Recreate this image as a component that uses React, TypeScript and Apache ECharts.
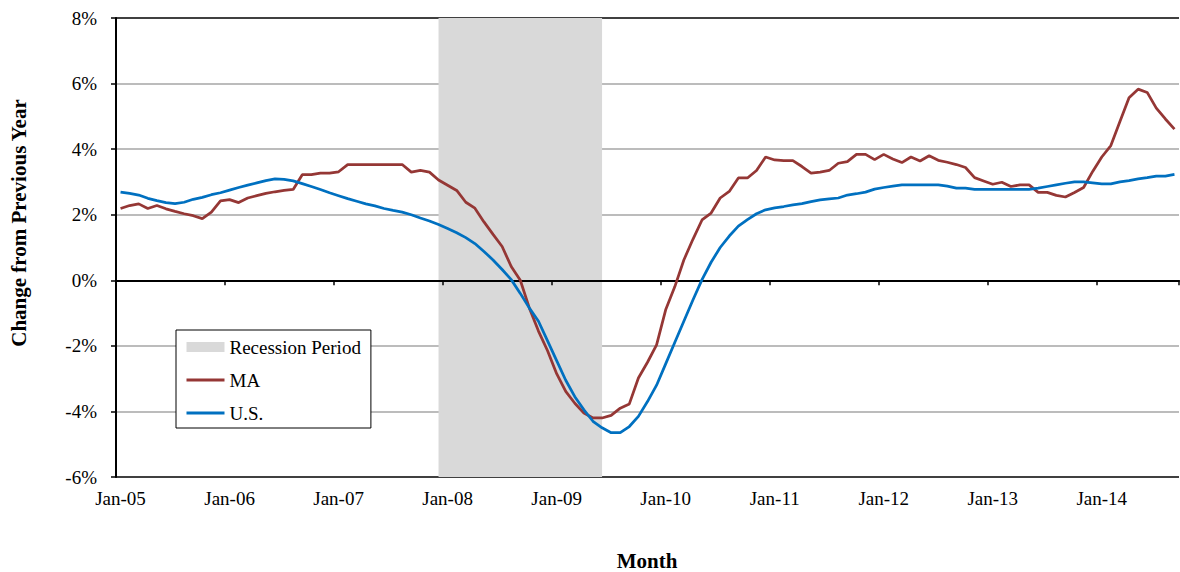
import React, { useEffect, useRef } from 'react';
import * as echarts from 'echarts';

// ---- data ----
const MONTH_NAMES = ['Jan', 'Feb', 'Mar', 'Apr', 'May', 'Jun', 'Jul', 'Aug', 'Sep', 'Oct', 'Nov', 'Dec'];
const START_YEAR = 2005;
const N_MONTHS = 117; // Jan-05 .. Sep-14
const categories: string[] = [];
for (let i = 0; i < N_MONTHS; i++) {
  const y = START_YEAR + Math.floor(i / 12);
  categories.push(`${MONTH_NAMES[i % 12]}-${String(y % 100).padStart(2, '0')}`);
}

const maValues = [
  2.19, 2.28, 2.33, 2.19, 2.28, 2.18, 2.10, 2.03, 1.97, 1.88, 2.08, 2.42,
  2.46, 2.37, 2.51, 2.58, 2.65, 2.70, 2.74, 2.77, 3.22, 3.22, 3.27, 3.27,
  3.31, 3.53, 3.53, 3.53, 3.53, 3.53, 3.53, 3.53, 3.30, 3.35, 3.30, 3.06,
  2.90, 2.74, 2.38, 2.20, 1.78, 1.40, 1.03, 0.42, 0.00, -0.85, -1.55, -2.15,
  -2.85, -3.39, -3.75, -4.05, -4.20, -4.20, -4.12, -3.90, -3.77, -2.98, -2.50, -1.97,
  -0.90, -0.20, 0.62, 1.25, 1.84, 2.05, 2.51, 2.71, 3.12, 3.12, 3.35, 3.76,
  3.67, 3.65, 3.65, 3.47, 3.27, 3.30, 3.35, 3.57, 3.62, 3.84, 3.84, 3.68,
  3.84, 3.70, 3.59, 3.76, 3.64, 3.80, 3.66, 3.60, 3.53, 3.44, 3.13, 3.03,
  2.93, 2.99, 2.86, 2.91, 2.91, 2.68, 2.68, 2.59, 2.54, 2.68, 2.83, 3.32,
  3.76, 4.11, 4.84, 5.57, 5.83, 5.73, 5.25, 4.92, 4.61,
];

const usValues = [
  2.69, 2.65, 2.60, 2.50, 2.43, 2.37, 2.34, 2.38, 2.47, 2.53, 2.61, 2.67,
  2.75, 2.83, 2.90, 2.97, 3.04, 3.09, 3.08, 3.03, 2.95, 2.86, 2.77, 2.67,
  2.58, 2.49, 2.41, 2.33, 2.27, 2.19, 2.13, 2.08, 2.00, 1.90, 1.81, 1.70,
  1.58, 1.45, 1.30, 1.12, 0.88, 0.62, 0.33, 0.02, -0.40, -0.85, -1.25, -1.85,
  -2.45, -3.05, -3.55, -3.95, -4.30, -4.50, -4.65, -4.65, -4.46, -4.15, -3.70, -3.20,
  -2.55, -1.90, -1.25, -0.60, 0.02, 0.55, 1.00, 1.35, 1.65, 1.85, 2.03, 2.15,
  2.21, 2.25, 2.30, 2.34, 2.40, 2.45, 2.48, 2.51, 2.60, 2.64, 2.69, 2.78,
  2.83, 2.87, 2.91, 2.91, 2.91, 2.91, 2.91, 2.87, 2.81, 2.81, 2.77, 2.77,
  2.77, 2.77, 2.77, 2.77, 2.77, 2.81, 2.86, 2.91, 2.96, 3.00, 3.00, 2.97,
  2.94, 2.94, 3.00, 3.04, 3.09, 3.13, 3.18, 3.18, 3.23,
];

const recessionStart = 'Dec-07';
const recessionEnd = 'Jun-09';

const Y_MIN = -6;
const Y_MAX = 8;
const Y_INTERVAL = 2;

const FONT = '"Liberation Serif", "Times New Roman", serif';

export default function App() {
  const ref = useRef<HTMLDivElement>(null);

  useEffect(() => {
    if (!ref.current) return;
    const chart = echarts.init(ref.current, undefined, { renderer: 'svg' });
    const grey = '#a6a6a6';
    const option: any = {
      animation: false,
      backgroundColor: '#fff',
      textStyle: { fontFamily: FONT },
      grid: { left: 116, right: 1, top: 18, bottom: 95, containLabel: false },
      legend: {
        orient: 'vertical',
        left: 176,
        top: 330,
        padding: [7, 10, 5, 9],
        itemGap: 13,
        itemWidth: 38,
        itemHeight: 10,
        backgroundColor: '#fff',
        borderColor: '#000',
        borderWidth: 1,
        borderRadius: 0,
        selectedMode: false,
        textStyle: { fontFamily: FONT, fontSize: 19, color: '#000', lineHeight: 20 },
        data: [
          { name: 'Recession Period', icon: 'rect', itemStyle: { color: '#d9d9d9' } },
          { name: 'MA', itemStyle: { opacity: 0 }, lineStyle: { color: '#953735', width: 3 } },
          { name: 'U.S.', itemStyle: { opacity: 0 }, lineStyle: { color: '#0070c0', width: 3 } },
        ],
      },
      xAxis: [
        {
          type: 'category',
          data: categories,
          boundaryGap: true,
          position: 'bottom',
          axisLine: { show: false, onZero: false },
          axisTick: { show: false },
          splitLine: { show: false },
          axisLabel: {
            interval: 11,
            margin: 12,
            fontFamily: FONT,
            fontSize: 19,
            color: '#000',
          },
        },
        {
          type: 'category',
          data: categories,
          boundaryGap: true,
          position: 'bottom',
          z: 3,
          axisLine: { show: true, onZero: true, lineStyle: { color: '#000', width: 2 } },
          axisTick: { show: true, interval: 11, length: 5, lineStyle: { color: '#000', width: 1.5 } },
          axisLabel: { show: false },
          splitLine: { show: false },
        },
      ],
      yAxis: {
        type: 'value',
        min: Y_MIN,
        max: Y_MAX,
        interval: Y_INTERVAL,
        z: 0,
        axisLine: { show: true, lineStyle: { color: '#000', width: 2 } },
        axisTick: { show: true, length: 5, lineStyle: { color: '#000', width: 1.5 } },
        axisLabel: {
          formatter: (v: number) => `${v}%`,
          margin: 19,
          fontFamily: FONT,
          fontSize: 19,
          color: '#000',
        },
        splitLine: {
          show: true,
          lineStyle: {
            color: ['#000', grey, grey, grey, grey, grey, grey, '#000'],
            width: 1.5,
          },
        },
      },
      graphic: [
        {
          type: 'text',
          x: 19,
          y: 223,
          rotation: Math.PI / 2,
          style: {
            text: 'Change from Previous Year',
            font: `bold 21px ${FONT}`,
            fill: '#000',
            textAlign: 'center',
            textVerticalAlign: 'middle',
          },
        },
        {
          type: 'text',
          x: 647,
          y: 561,
          style: {
            text: 'Month',
            font: `bold 21px ${FONT}`,
            fill: '#000',
            textAlign: 'center',
            textVerticalAlign: 'middle',
          },
        },
      ],
      series: [
        {
          name: 'Recession Period',
          type: 'line',
          data: [],
          symbol: 'none',
          color: '#d9d9d9',
          itemStyle: { color: '#d9d9d9' },
          lineStyle: { width: 0 },
          z: 1,
          markArea: {
            silent: true,
            z: 1,
            itemStyle: { color: '#d9d9d9' },
            data: [[{ xAxis: recessionStart }, { xAxis: recessionEnd }]],
          },
        },
        {
          name: 'MA',
          type: 'line',
          data: maValues,
          symbol: 'none',
          showSymbol: false,
          z: 4,
          color: '#953735',
          itemStyle: { color: '#953735' },
          lineStyle: { color: '#953735', width: 2.75 },
        },
        {
          name: 'U.S.',
          type: 'line',
          data: usValues,
          symbol: 'none',
          showSymbol: false,
          z: 4,
          color: '#0070c0',
          itemStyle: { color: '#0070c0' },
          lineStyle: { color: '#0070c0', width: 2.75 },
        },
      ],
    };
    chart.setOption(option);
    return () => chart.dispose();
  }, []);

  return (
    <div
      ref={ref}
      style={{ position: 'fixed', left: 0, top: 0, width: 1180, height: 572, background: '#fff' }}
    />
  );
}
